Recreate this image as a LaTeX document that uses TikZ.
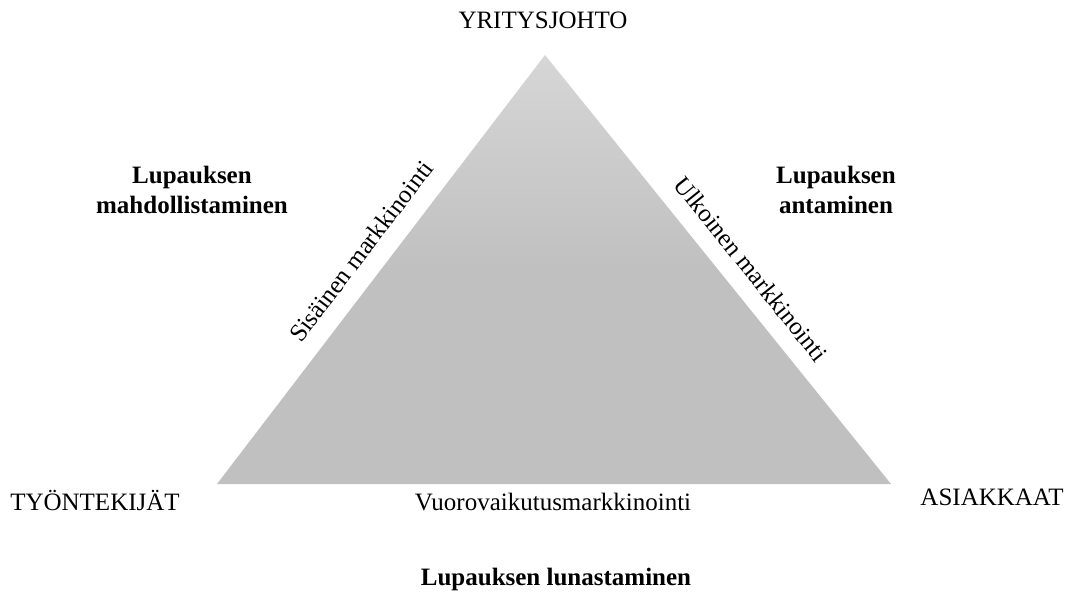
\documentclass[tikz,border=0pt]{standalone}
\usepackage{fontspec}
\setmainfont{Liberation Serif}
\definecolor{gtop}{RGB}{214,214,214}
\definecolor{gbot}{RGB}{192,192,192}
\begin{document}
\begin{tikzpicture}[x=0.75pt,y=-0.75pt,
  lbl/.style={font=\fontsize{18.75}{22.5}\selectfont, inner sep=2pt},
  blbl/.style={font=\fontsize{18.75}{22.5}\selectfont\bfseries, align=center, inner sep=2pt},
  band/.style={lbl, fill=white, inner sep=3pt}]
\useasboundingbox (0,0) rectangle (1065,597);
\coordinate (A) at (545,55);
\coordinate (B) at (217,484);
\coordinate (C) at (891,484);
\shade[top color=gtop, bottom color=gbot, middle color=gbot] (A) -- (B) -- (C) -- cycle;
\node[lbl] (top) at (543,20) {YRITYSJOHTO};
\node[lbl] (emp) at (95,500) {TYÖNTEKIJÄT};
\node[lbl] (cust) at (992,497) {ASIAKKAAT};
\node[blbl] (enable) at (192,190) {Lupauksen\\mahdollistaminen};
\node[blbl] (give) at (836,190) {Lupauksen\\antaminen};
\node[blbl] (keep) at (556,579) {Lupauksen lunastaminen};
\node[band, rotate=52.7] (int) at (361,251) {Sisäinen markkinointi};
\node[band, rotate=-51.3] (ext) at (751,269) {Ulkoinen markkinointi};
\node[band] (inter) at (553,502) {Vuorovaikutusmarkkinointi};
\end{tikzpicture}
\end{document}
